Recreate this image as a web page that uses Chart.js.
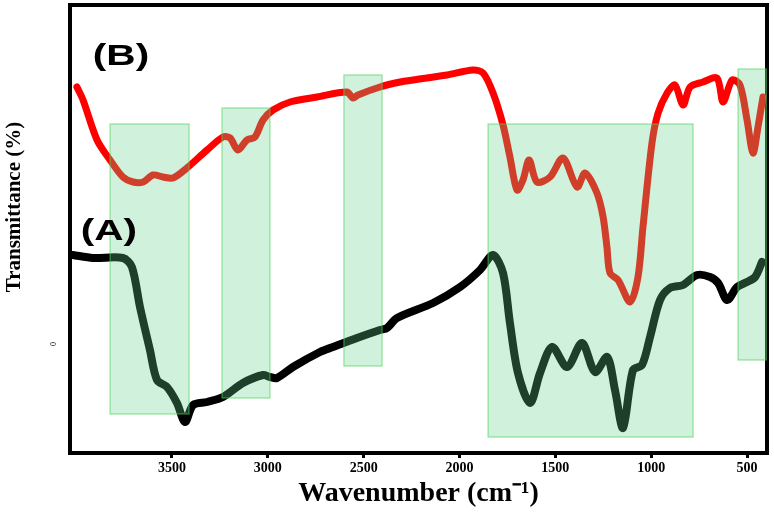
<!DOCTYPE html>
<html>
<head>
<meta charset="utf-8">
<script src="https://cdn.jsdelivr.net/npm/chart.js@4"></script>
<style>
  html, body { margin: 0; padding: 0; background: #fff; }
  #wrap { width: 774px; height: 513px; }
</style>
</head>
<body>
<div id="wrap"><canvas id="ftir"></canvas></div>
<script>
// spectrum (A), wavenumber in cm-1 and transmittance (arbitrary offset)
const wnA = [4017, 3912, 3756, 3709, 3667, 3615, 3578, 3526, 3474, 3432, 3390, 3317, 3234, 3130, 3025, 2989,
  2952, 2869, 2728, 2660, 2535, 2415, 2378, 2326, 2138, 1997, 1893, 1825, 1773, 1737, 1695, 1632, 1580, 1517,
  1439, 1361, 1293, 1230, 1189, 1147, 1095, 1048, 1006, 954, 902, 834, 761, 693, 651, 604, 552, 500, 458, 422];
const tA = [21.75, 21, 21, 18.75, 8.75, -2, -9.5, -11.25, -15.25, -20, -15.75, -15, -13.75, -10.25, -8.25, -8.75,
  -9, -6.25, -2.5, -1.25, 1, 3, 3.5, 6, 9.75, 13.75, 18, 21.75, 17.25, 4.75, -7.75, -15.25, -7.75, -1.25,
  -6.25, -0.25, -7.5, -3.75, -12, -21.5, -7, -5.75, 1.25, 10.5, 13.5, 14.25, 16.75, 16.25, 14.75, 10.5, 13.75, 15, 16.25, 20];

// spectrum (B)
const wnB = [3996, 3964, 3891, 3823, 3756, 3703, 3651, 3599, 3547, 3495, 3422, 3317, 3234, 3197, 3156, 3109,
  3067, 3025, 2973, 2884, 2743, 2587, 2556, 2530, 2415, 2310, 2243, 2065, 1930, 1877, 1825, 1773, 1737, 1700,
  1669, 1637, 1596, 1528, 1460, 1387, 1345, 1283, 1251, 1231, 1215, 1173, 1110, 1069, 1043, 996, 964, 917,
  876, 834, 797, 730, 657, 625, 578, 537, 500, 469, 443, 417];
const tB = [63.75, 60.5, 50.5, 45.5, 41.25, 40, 40, 41.75, 41.25, 41, 43.5, 48, 51.25, 51, 48, 50.5,
  51.25, 55.5, 58, 60, 61.25, 62.5, 61, 61.75, 63.75, 65, 65.5, 66.75, 68, 67.25, 62.25, 54.25, 46.25, 38,
  40.5, 45.5, 40, 41.25, 46, 38.75, 42.25, 37.25, 31.25, 23.75, 17.25, 15.5, 10, 16.25, 28.75, 49.75, 57.25, 62.25,
  64.25, 59.25, 63.75, 65, 66, 60, 65.5, 64.25, 55.5, 47.25, 53.75, 61.25];

// highlighted bands
const bandFrom = [3823, 3239, 2603, 1851, 547];
const bandTo = [3411, 2989, 2404, 782, 400];
const bandTop = [54.5, 58.5, 66.75, 54.5, 68.25];
const bandBottom = [-18, -14, -6, -23.75, -4.5];

// curve labels
const curveLabels = ['(A)', '(B)'];
const labelWn = [3829, 3766];
const labelT = [27.5, 71.25];

const xTicks = [3500, 3000, 2500, 2000, 1500, 1000, 500];
const yTicks = [0];

const serif = '"Liberation Serif", "Times New Roman", serif';

const extras = {
  id: 'extras',
  beforeDatasetsDraw(chart) {
    const { ctx, chartArea: a } = chart;
    ctx.save();
    ctx.strokeStyle = '#000';
    ctx.lineWidth = 4;
    ctx.beginPath();
    ctx.moveTo(a.left, a.top);
    ctx.lineTo(a.right, a.top);
    ctx.lineTo(a.right, a.bottom);
    ctx.stroke();
    ctx.restore();
  },
  afterDatasetsDraw(chart) {
    const { ctx, scales: { x, y } } = chart;
    ctx.save();
    bandFrom.forEach((f, i) => {
      const x1 = x.getPixelForValue(f), x2 = x.getPixelForValue(bandTo[i]);
      const y1 = y.getPixelForValue(bandTop[i]), y2 = y.getPixelForValue(bandBottom[i]);
      ctx.fillStyle = 'rgba(100, 210, 140, 0.3)';
      ctx.fillRect(x1, y1, x2 - x1, y2 - y1);
      ctx.strokeStyle = 'rgba(80, 210, 90, 0.6)';
      ctx.lineWidth = 1.2;
      ctx.strokeRect(x1, y1, x2 - x1, y2 - y1);
    });
    ctx.fillStyle = '#000';
    ctx.textAlign = 'center';
    ctx.textBaseline = 'middle';
    ctx.font = 'bold 29px "Liberation Sans", Arial, sans-serif';
    curveLabels.forEach((t, i) => {
      ctx.save();
      ctx.translate(x.getPixelForValue(labelWn[i]), y.getPixelForValue(labelT[i]));
      ctx.scale(1.4, 1);
      ctx.fillText(t, 0, 0);
      ctx.restore();
    });
    ctx.restore();
  },
  afterDraw(chart) {
    const { ctx } = chart;
    ctx.save();
    ctx.translate(15, 207);
    ctx.rotate(-Math.PI / 2);
    ctx.fillStyle = '#000';
    ctx.font = 'bold 21px ' + serif;
    ctx.textAlign = 'center';
    ctx.textBaseline = 'middle';
    ctx.fillText('Transmittance (%)', 0, 0);
    ctx.restore();
  }
};

new Chart(document.getElementById('ftir'), {
  type: 'line',
  data: {
    datasets: [
      {
        label: '(A)',
        data: wnA.map((v, i) => ({ x: v, y: tA[i] })),
        borderColor: '#000',
        borderWidth: 8,
        tension: 0.3,
        borderJoinStyle: 'round',
        borderCapStyle: 'round',
        pointRadius: 0
      },
      {
        label: '(B)',
        data: wnB.map((v, i) => ({ x: v, y: tB[i] })),
        borderColor: '#ff0000',
        borderWidth: 7,
        tension: 0.3,
        borderJoinStyle: 'round',
        borderCapStyle: 'round',
        pointRadius: 0
      }
    ]
  },
  options: {
    responsive: true,
    maintainAspectRatio: false,
    animation: false,
    layout: { padding: { top: 5, right: 7, left: 0, bottom: 0 } },
    plugins: {
      legend: { display: false },
      tooltip: { enabled: false }
    },
    scales: {
      x: {
        type: 'linear',
        reverse: true,
        min: 396,
        max: 4032,
        afterBuildTicks: s => { s.ticks = xTicks.map(v => ({ value: v })); },
        afterFit: s => { s.height = 60; s.paddingLeft = 0; s.paddingRight = 0; },
        grid: { drawOnChartArea: false, drawTicks: true, tickLength: 5, color: '#000', lineWidth: 3 },
        border: { display: true, color: '#000', width: 4 },
        ticks: {
          color: '#000',
          padding: 2,
          maxRotation: 0,
          callback: v => String(v),
          font: { family: serif, size: 14, weight: 'bold' }
        },
        title: {
          display: true,
          text: 'Wavenumber (cm⁻¹)',
          color: '#000',
          font: { family: serif, size: 28, weight: 'bold' },
          padding: { top: 0, bottom: 2 }
        }
      },
      y: {
        min: -27.75,
        max: 84.25,
        afterBuildTicks: s => { s.ticks = yTicks.map(v => ({ value: v })); },
        afterFit: s => { s.width = 70; s.paddingTop = 0; s.paddingBottom = 0; },
        grid: { drawOnChartArea: false, drawTicks: false },
        border: { display: true, color: '#000', width: 4 },
        ticks: {
          color: '#000',
          padding: 16,
          minRotation: 90,
          maxRotation: 90,
          callback: v => String(v),
          font: { family: serif, size: 8 }
        }
      }
    }
  },
  plugins: [extras]
});
</script>
</body>
</html>
